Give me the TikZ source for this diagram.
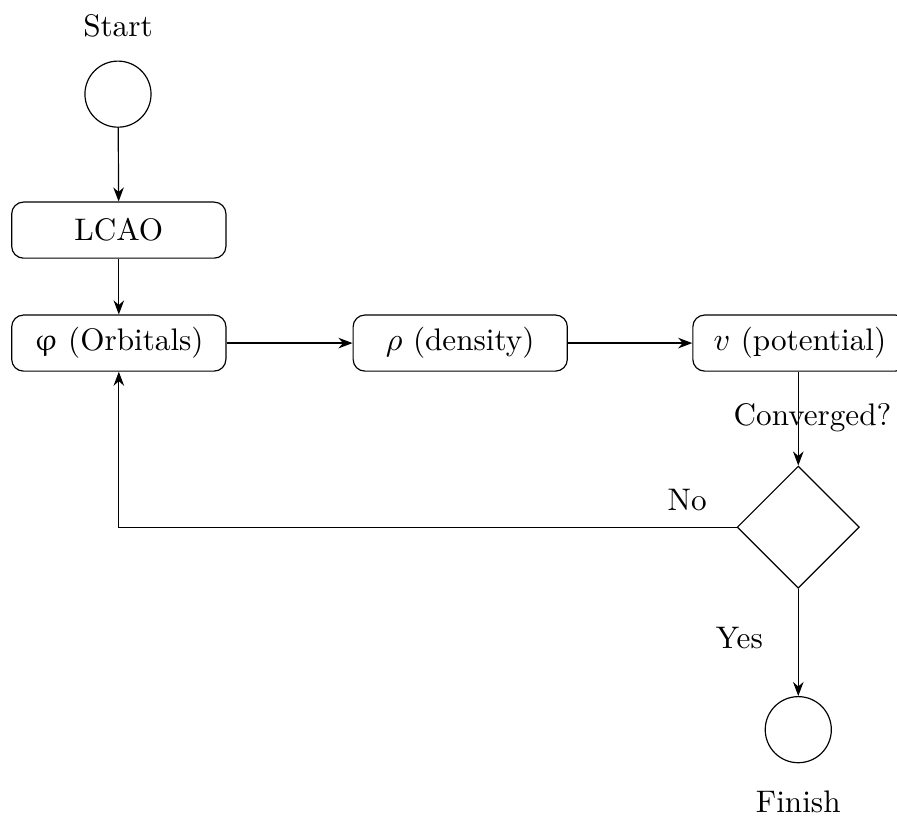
\documentclass[tikz,border=0pt]{standalone}
\usepackage{upgreek}
\usetikzlibrary{arrows.meta,shapes.geometric}
\begin{document}
\begin{tikzpicture}[
    >={Stealth},
    font=\fontsize{10.6}{12.8}\selectfont,
    box/.style={draw, rounded corners, minimum width=2.56cm, minimum height=0.67cm, align=center},
    term/.style={draw, circle, minimum size=0.79cm},
    check/.style={draw, diamond, minimum width=1.46cm, minimum height=1.46cm, inner sep=0pt}
]
\useasboundingbox (0,0) rectangle (10.72,-9.78);
\node[term] (start) at (1.41,-1.125) {};
\node (startlbl) at (1.41,-0.31) {Start};
\node[box] (lcao) at (1.42,-2.75) {LCAO};
\node[box] (orb) at (1.42,-4.10) {$\upvarphi$ (Orbitals)};
\node[box] (dens) at (5.50,-4.10) {$\rho$ (density)};
\node[box] (pot) at (9.56,-4.10) {$v$ (potential)};
\node[check] (conv) at (9.54,-6.30) {};
\node[term] (finish) at (9.54,-8.72) {};
\node (finishlbl) at (9.54,-9.58) {Finish};

\draw[->] (start) -- (lcao);
\draw[->] (lcao) -- (orb);
\draw[->] (orb) -- (dens);
\draw[->] (dens) -- (pot);
\draw[->] (pot.south -| conv.north) -- node[pos=0.49, xshift=0.17cm] {Converged?} (conv.north);
\draw[->] (conv.west) -| node[pos=0.04, above, yshift=2pt] {No} (orb.south);
\draw[->] (conv.south) -- node[pos=0.46, left, xshift=-0.3cm] {Yes} (finish);
\end{tikzpicture}
\end{document}
